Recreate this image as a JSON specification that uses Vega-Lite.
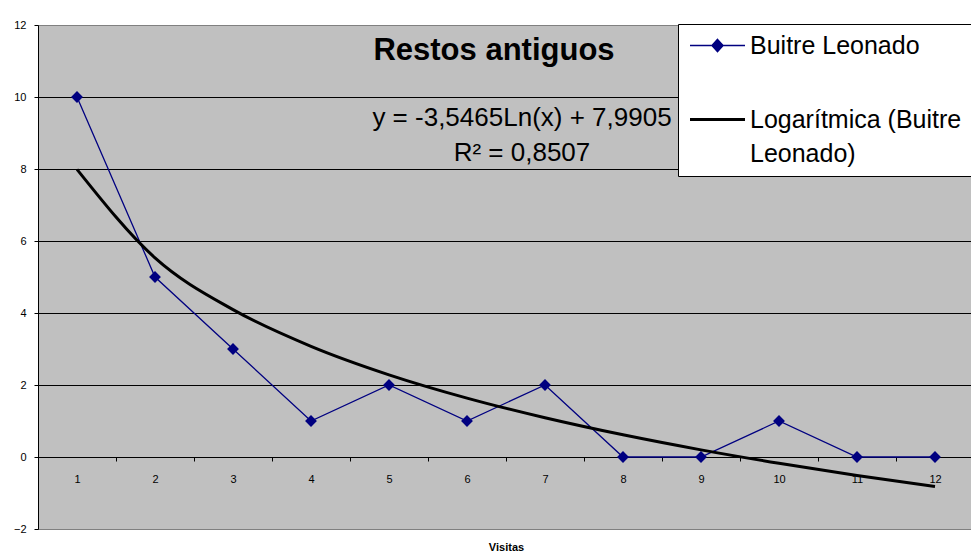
{
  "$schema": "https://vega.github.io/schema/vega-lite/v6.json",
  "width": 936,
  "height": 504,
  "autosize": {"type": "none"},
  "padding": {"left": 38, "top": 25, "right": 0, "bottom": 26},
  "background": "white",
  "config": {
    "font": "Liberation Sans",
    "view": {"fill": "#C0C0C0", "stroke": "#808080", "strokeWidth": 1}
  },
  "title": {
    "text": "Restos antiguos",
    "orient": "top",
    "anchor": "middle",
    "frame": "group",
    "offset": -72,
    "dx": -12,
    "fontSize": 31,
    "fontWeight": "bold",
    "baseline": "alphabetic",
    "font": "Liberation Sans",
    "color": "black"
  },
  "data": {
    "values": [
      {"visita": 1, "valor": 10, "serie": "Buitre Leonado"},
      {"visita": 2, "valor": 5, "serie": "Buitre Leonado"},
      {"visita": 3, "valor": 3, "serie": "Buitre Leonado"},
      {"visita": 4, "valor": 1, "serie": "Buitre Leonado"},
      {"visita": 5, "valor": 2, "serie": "Buitre Leonado"},
      {"visita": 6, "valor": 1, "serie": "Buitre Leonado"},
      {"visita": 7, "valor": 2, "serie": "Buitre Leonado"},
      {"visita": 8, "valor": 0, "serie": "Buitre Leonado"},
      {"visita": 9, "valor": 0, "serie": "Buitre Leonado"},
      {"visita": 10, "valor": 1, "serie": "Buitre Leonado"},
      {"visita": 11, "valor": 0, "serie": "Buitre Leonado"},
      {"visita": 12, "valor": 0, "serie": "Buitre Leonado"},
      {"visita": 1, "valor": 7.9905, "serie": "Logarítmica (Buitre Leonado)"},
      {"visita": 2, "valor": 5.5322, "serie": "Logarítmica (Buitre Leonado)"},
      {"visita": 3, "valor": 4.0943, "serie": "Logarítmica (Buitre Leonado)"},
      {"visita": 4, "valor": 3.074, "serie": "Logarítmica (Buitre Leonado)"},
      {"visita": 5, "valor": 2.2827, "serie": "Logarítmica (Buitre Leonado)"},
      {"visita": 6, "valor": 1.6361, "serie": "Logarítmica (Buitre Leonado)"},
      {"visita": 7, "valor": 1.0894, "serie": "Logarítmica (Buitre Leonado)"},
      {"visita": 8, "valor": 0.6157, "serie": "Logarítmica (Buitre Leonado)"},
      {"visita": 9, "valor": 0.198, "serie": "Logarítmica (Buitre Leonado)"},
      {"visita": 10, "valor": -0.1756, "serie": "Logarítmica (Buitre Leonado)"},
      {"visita": 11, "valor": -0.5136, "serie": "Logarítmica (Buitre Leonado)"},
      {"visita": 12, "valor": -0.8222, "serie": "Logarítmica (Buitre Leonado)"}
    ]
  },
  "encoding": {
    "x": {
      "field": "visita",
      "type": "quantitative",
      "scale": {"domain": [0.5, 12.5], "nice": false, "zero": false},
      "axis": {
        "values": [1.5, 2.5, 3.5, 4.5, 5.5, 6.5, 7.5, 8.5, 9.5, 10.5, 11.5, 12.5],
        "labelExpr": "format(datum.value - 0.5, 'd')",
        "labelOffset": -39,
        "labelFlush": false,
        "labelOverlap": false,
        "offset": -72,
        "domain": true,
        "domainColor": "black",
        "domainWidth": 1,
        "ticks": true,
        "tickColor": "black",
        "tickSize": 4,
        "grid": false,
        "labelFont": "Liberation Sans",
        "labelFontSize": 11,
        "labelColor": "black",
        "labelPadding": 12,
        "title": "Visitas",
        "titleFont": "Liberation Sans",
        "titleFontSize": 11,
        "titleFontWeight": "bold",
        "titleColor": "black",
        "titleBaseline": "alphabetic",
        "titleY": 93
      }
    },
    "y": {
      "field": "valor",
      "type": "quantitative",
      "scale": {"domain": [-2, 12], "nice": false, "zero": false},
      "axis": {
        "values": [-2, 0, 2, 4, 6, 8, 10, 12],
        "grid": true,
        "gridColor": {"condition": {"test": "datum.value == 12 || datum.value == -2", "value": "#808080"}, "value": "black"},
        "gridWidth": 1,
        "domainColor": "black",
        "domainWidth": 1,
        "tickColor": "black",
        "tickSize": 4,
        "labelFont": "Liberation Sans",
        "labelFontSize": 11,
        "labelColor": "black",
        "labelPadding": 8,
        "title": null
      }
    }
  },
  "layer": [
    {
      "transform": [{"filter": "datum.serie == 'Buitre Leonado'"}],
      "mark": {"type": "line", "strokeWidth": 1.3},
      "encoding": {
        "color": {
          "field": "serie",
          "type": "nominal",
          "scale": {"domain": ["Buitre Leonado", "Logarítmica (Buitre Leonado)"], "range": ["#000080", "#000000"]},
          "legend": {
            "orient": "none",
            "legendX": 640,
            "legendY": -1,
            "fillColor": "white",
            "strokeColor": "black",
            "padding": 9,
            "title": null,
            "labelFont": "Liberation Sans",
            "labelFontSize": 25,
            "labelColor": "black",
            "labelLimit": 600,
            "symbolSize": 121,
            "symbolOffset": 18,
            "labelOffset": 20,
            "rowPadding": 48,
            "labelExpr": "datum.label == 'Logarítmica (Buitre Leonado)' ? ['Logarítmica (Buitre', 'Leonado)'] : datum.label",
            "encode": {
              "symbols": {
                "update": {
                  "shape": {"signal": "datum.value == 'Buitre Leonado' ? 'M-5,0H5M0,-1.1L1,0L0,1.1L-1,0Z' : 'M-5,0H5'"},
                  "fill": {"signal": "datum.value == 'Buitre Leonado' ? '#000080' : 'transparent'"},
                  "stroke": {"signal": "datum.value == 'Buitre Leonado' ? '#000080' : '#000000'"},
                  "strokeWidth": {"signal": "datum.value == 'Buitre Leonado' ? 1.5 : 3"},
                  "opacity": {"value": 1}
                }
              },
              "labels": {
                "update": {"lineHeight": {"value": 34}}
              }
            }
          }
        }
      }
    },
    {
      "transform": [{"filter": "datum.serie == 'Buitre Leonado'"}],
      "mark": {"type": "point", "shape": "diamond", "filled": true, "size": 140, "color": "#000080", "opacity": 1}
    },
    {
      "transform": [{"filter": "datum.serie == 'Logarítmica (Buitre Leonado)'"}],
      "mark": {"type": "line", "strokeWidth": 3, "interpolate": "monotone"},
      "encoding": {
        "color": {"field": "serie", "type": "nominal"}
      }
    },
    {
      "transform": [{"filter": "datum.serie == 'Buitre Leonado' && datum.visita == 1"}],
      "mark": {"type": "text", "align": "center", "baseline": "alphabetic", "fontSize": 26, "lineHeight": 35, "font": "Liberation Sans", "color": "black"},
      "encoding": {
        "x": {"datum": 6.705},
        "y": {"datum": 9.194},
        "text": {"value": ["y = -3,5465Ln(x) + 7,9905", "R² = 0,8507"]}
      }
    }
  ]
}
